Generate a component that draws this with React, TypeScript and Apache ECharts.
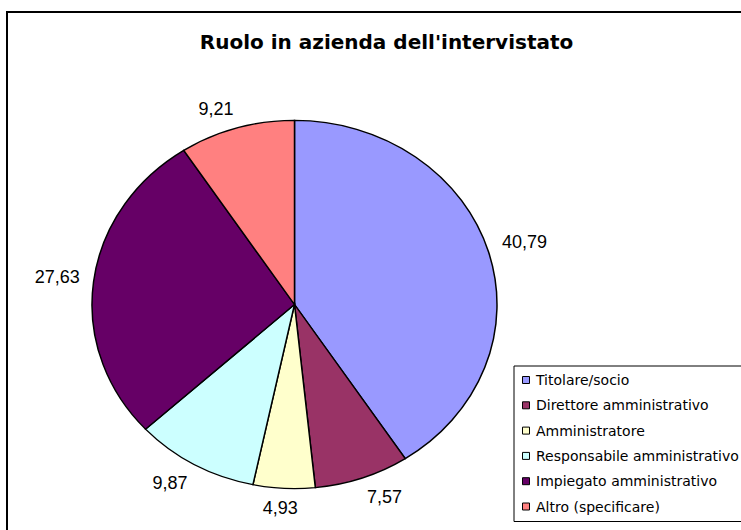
import React, { useEffect, useRef } from "react";
import * as echarts from "echarts";

const categories = [
  "Titolare/socio",
  "Direttore amministrativo",
  "Amministratore",
  "Responsabile amministrativo",
  "Impiegato amministrativo",
  "Altro (specificare)",
];
const values = [40.79, 7.57, 4.93, 9.87, 27.63, 9.21];
const colors = ["#9999FF", "#993366", "#FFFFCC", "#CCFFFF", "#660066", "#FF8080"];
const titleText = "Ruolo in azienda dell'intervistato";

const fmt = (v: number) => v.toFixed(2).replace(".", ",");

export default function App() {
  const ref = useRef<HTMLDivElement>(null);
  useEffect(() => {
    document.body.style.margin = "0";
    if (!ref.current) return;
    const chart = echarts.init(ref.current, undefined, { renderer: "svg" });

    const labelFont = "18px 'Liberation Sans', Arial, sans-serif";
    const ctx = document.createElement("canvas").getContext("2d");
    const measure = (t: string) => {
      if (!ctx) return t.length * 9;
      ctx.font = labelFont;
      return ctx.measureText(t).width;
    };

    const total = values.reduce((a, b) => a + b, 0);
    const cum: number[] = [];
    values.reduce((acc, v, i) => {
      cum[i] = acc;
      return acc + v;
    }, 0);

    const cx = 294.5;
    const cy = 304.5;
    const rx = 202.5;
    const ry = 184;
    const sm = (v: number) => Math.max(-1, Math.min(1, v / 0.3));

    chart.setOption({
      animation: false,
      backgroundColor: "#ffffff",
      title: {
        text: titleText,
        left: 381.5,
        top: 27,
        textAlign: "center",
        textStyle: {
          fontFamily: "'DejaVu Sans', sans-serif",
          fontWeight: "bold",
          fontSize: 20,
          color: "#000",
        },
      },
      legend: {
        data: categories.map((name, i) => ({
          name,
          itemStyle: { color: colors[i], borderColor: "#000", borderWidth: 1, opacity: 1 },
        })),
        orient: "vertical",
        left: 514,
        top: 366,
        itemWidth: 10,
        itemHeight: 7,
        itemGap: 11.3,
        padding: [7, 10, 8, 8],
        borderColor: "#000",
        borderWidth: 1,
        backgroundColor: "#fff",
        icon: "path://M0,0h10v10h-10z",
        itemStyle: { borderColor: "#000", borderWidth: 1 },
        textStyle: {
          fontFamily: "'DejaVu Sans', sans-serif",
          fontSize: 14,
          color: "#000",
          lineHeight: 14,
        },
        selectedMode: false,
      },
      graphic: [
        {
          type: "rect",
          shape: { x: 7, y: 12, width: 800, height: 600 },
          style: { fill: "none", stroke: "#000", lineWidth: 2 },
          silent: true,
          z: 100,
        },
      ],
      series: [
        {
          type: "pie",
          radius: [0, 0],
          center: [cx, cy],
          silent: true,
          label: { show: false },
          labelLine: { show: false },
          itemStyle: { borderWidth: 0 },
          data: categories.map((name, i) => ({
            name,
            value: values[i],
            itemStyle: { color: colors[i] },
          })),
        },
        {
          type: "custom",
          coordinateSystem: "none",
          silent: true,
          data: categories.map((name, i) => ({
            name,
            value: values[i],
            itemStyle: { color: colors[i] },
          })),
          renderItem: (params: any, api: any) => {
            const i = params.dataIndex;
            const v = api.value(0) as number;
            const start = -Math.PI / 2 + (cum[i] / total) * Math.PI * 2;
            const end = start + (v / total) * Math.PI * 2;
            const mid = (start + end) / 2;
            const dx = Math.cos(mid);
            const dy = Math.sin(mid);
            const px = cx + rx * dx;
            const py = cy + ry * dy;
            const text = fmt(v);
            const w = measure(text);
            const lx = px + 14 * dx + sm(dx) * (w / 2);
            const ly = py + 13 * dy + sm(dy) * 7;
            return {
              type: "group",
              children: [
                {
                  type: "sector",
                  x: cx,
                  y: cy,
                  scaleX: 1,
                  scaleY: ry / rx,
                  shape: { cx: 0, cy: 0, r0: 0, r: rx, startAngle: start, endAngle: end, clockwise: true },
                  style: {
                    fill: colors[i],
                    stroke: "#000",
                    lineWidth: 1.5,
                    strokeNoScale: true,
                  },
                },
                {
                  type: "text",
                  x: lx,
                  y: ly,
                  style: {
                    text,
                    fill: "#000",
                    font: labelFont,
                    align: "center",
                    verticalAlign: "middle",
                    textAlign: "center",
                    textVerticalAlign: "middle",
                  },
                },
              ],
            };
          },
        },
      ],
    });
    return () => chart.dispose();
  }, []);
  return <div ref={ref} style={{ width: 741, height: 530 }} />;
}
